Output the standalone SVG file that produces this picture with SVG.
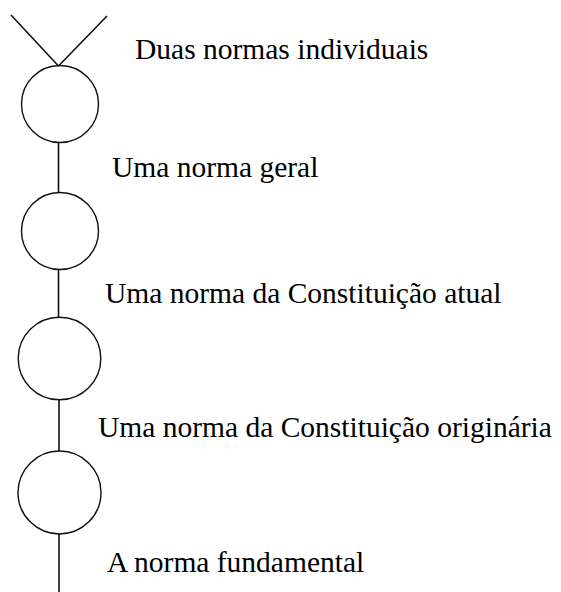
<svg xmlns="http://www.w3.org/2000/svg" width="561" height="592" viewBox="0 0 561 592">
<style>
.n{fill:none;stroke:#111;stroke-width:1.4}
.c{stroke:#111;stroke-width:1.6;fill:none}
.t{font-family:"Liberation Serif","Times New Roman",serif;font-size:29.5px;fill:#000}
</style>
<rect width="561" height="592" fill="#fff"/>
<g id="connectors">
<line class="c" x1="11" y1="15" x2="58.5" y2="66"/>
<line class="c" x1="107" y1="16" x2="58.5" y2="66"/>
<line class="c" x1="58.5" y1="143" x2="58.5" y2="193"/>
<line class="c" x1="58.5" y1="269" x2="58.5" y2="317"/>
<line class="c" x1="59" y1="400" x2="59" y2="451"/>
<line class="c" x1="59" y1="534" x2="59" y2="592"/>
</g>
<g id="node1"><circle class="n" cx="60" cy="104" r="38.5"/></g>
<g id="node2"><circle class="n" cx="60" cy="231" r="38.5"/></g>
<g id="node3"><circle class="n" cx="59.5" cy="358.5" r="41.3"/></g>
<g id="node4"><circle class="n" cx="59.5" cy="492.5" r="41.5"/></g>
<g id="labels">
<text class="t" x="135" y="59">Duas normas individuais</text>
<text class="t" x="112" y="177">Uma norma geral</text>
<text class="t" x="105" y="303">Uma norma da Constituição atual</text>
<text class="t" x="98" y="437">Uma norma da Constituição originária</text>
<text class="t" x="107" y="572">A norma fundamental</text>
</g>
</svg>
